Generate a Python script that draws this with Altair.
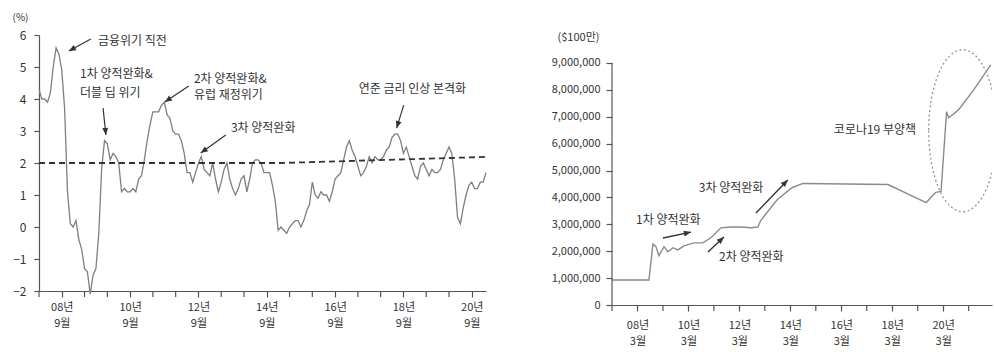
import math
import altair as alt
import pandas as pd

FONT = "Noto Sans CJK KR"
INK = "#333333"
AXIS_GREY = "#555555"

# ---------------- left panel: US CPI YoY (%), monthly, month 0 = Jan 2008 ----------------
CPI_YOY = [4.3, 4.0, 4.0, 3.9, 4.2, 5.0, 5.6, 5.4, 4.9, 3.7, 1.1, 0.1,
           0.0, 0.2, -0.4, -0.7, -1.3, -1.4, -2.1, -1.5, -1.3, -0.2, 1.8, 2.7,
           2.6, 2.1, 2.3, 2.2, 2.0, 1.1, 1.2, 1.1, 1.1, 1.2, 1.1, 1.5,
           1.6, 2.1, 2.7, 3.2, 3.6, 3.6, 3.6, 3.8, 3.9, 3.5, 3.4, 3.0,
           2.9, 2.9, 2.7, 2.3, 1.7, 1.7, 1.4, 1.7, 2.0, 2.2, 1.8, 1.7,
           1.6, 2.0, 1.5, 1.1, 1.4, 1.8, 2.0, 1.5, 1.2, 1.0, 1.2, 1.5,
           1.6, 1.1, 1.5, 2.0, 2.1, 2.1, 2.0, 1.7, 1.7, 1.7, 1.3, 0.8,
           -0.1, 0.0, -0.1, -0.2, 0.0, 0.1, 0.2, 0.2, 0.0, 0.2, 0.5, 0.7,
           1.4, 1.0, 0.9, 1.1, 1.0, 1.0, 0.8, 1.1, 1.5, 1.6, 1.7, 2.1,
           2.5, 2.7, 2.4, 2.2, 1.9, 1.6, 1.7, 1.9, 2.2, 2.0, 2.2, 2.1,
           2.1, 2.2, 2.4, 2.5, 2.8, 2.9, 2.9, 2.7, 2.3, 2.5, 2.2, 1.9,
           1.6, 1.5, 1.9, 2.0, 1.8, 1.6, 1.8, 1.7, 1.7, 1.8, 2.1, 2.3,
           2.5, 2.3, 1.5, 0.3, 0.1, 0.6, 1.0, 1.3, 1.4, 1.2, 1.2, 1.4,
           1.4, 1.7]
CPI_MONTH = list(range(len(CPI_YOY)))

TREND_MONTH = [0, 85, 157]
TREND_VALUE = [2.0, 2.0, 2.19]

LEFT_Y_TICKS = [-2, -1, 0, 1, 2, 3, 4, 5, 6]
LEFT_MINOR_TICKS = [0, 16, 24, 40, 48, 64, 72, 88, 96, 112, 120, 136, 144]
LEFT_LABEL_AT = [8, 32, 56, 80, 104, 128, 152]
LEFT_LABEL_YEAR = ["08년", "10년", "12년", "14년", "16년", "18년", "20년"]
LEFT_LABEL_MONTH = "9월"

LEFT_NOTE_TEXT = ["금융위기 직전", "1차 양적완화&", "더블 딥 위기", "2차 양적완화&",
                  "유럽 재정위기", "3차 양적완화", "연준 금리 인상 본격화"]
LEFT_NOTE_X = [20.7, 14.4, 14.4, 54.4, 54.4, 67.4, 112.3]
LEFT_NOTE_Y = [5.81, 4.78, 4.19, 4.62, 4.12, 3.09, 4.31]

LEFT_ARROW_X1 = [18.2, 22.5, 52.6, 65.6, 128.1]
LEFT_ARROW_Y1 = [5.875, 3.72, 4.41, 2.875, 3.81]
LEFT_ARROW_X2 = [10.5, 23.5, 44.2, 56.8, 125.6]
LEFT_ARROW_Y2 = [5.5, 2.875, 3.91, 2.31, 3.09]

# ---------------- right panel: Fed balance sheet ($ million), month 0 = Mar 2007 ----------------
FED_MONTH = [0, 17.4, 19.3, 20.7, 22.1, 24.5, 26.4, 28.7, 31, 33.9,
             38.6, 42.8, 46.6, 51.3, 56, 60.7, 65.4, 68.7, 70.1, 78,
             85, 90, 130, 148, 152.5, 155, 157.6, 158.6, 163.3, 170.4,
             178.4]
FED_VALUE = [930000, 930000, 2270000, 2170000, 1830000, 2170000, 1980000, 2130000, 2050000, 2200000,
             2310000, 2310000, 2500000, 2870000, 2900000, 2900000, 2870000, 2900000, 3150000, 3930000,
             4370000, 4520000, 4480000, 3810000, 4190000, 4220000, 7190000, 6960000, 7260000, 8000000,
             8930000]

RIGHT_Y_TICKS = [0, 1000000, 2000000, 3000000, 4000000, 5000000, 6000000, 7000000, 8000000, 9000000]
RIGHT_MINOR_TICKS = [0, 24, 48, 72, 96, 120, 144, 168]
RIGHT_LABEL_AT = [12, 36, 60, 84, 108, 132, 156]
RIGHT_LABEL_YEAR = ["08년", "10년", "12년", "14년", "16년", "18년", "20년"]
RIGHT_LABEL_MONTH = "3월"

RIGHT_NOTE_TEXT = ["1차 양적완화", "2차 양적완화", "3차 양적완화", "코로나19 부양책"]
RIGHT_NOTE_X = [11.3, 50.4, 40.9, 104.5]
RIGHT_NOTE_Y = [3160000, 1780000, 4350000, 6500000]

RIGHT_ARROW_X1 = [24, 45.2, 67.8]
RIGHT_ARROW_Y1 = [2490000, 1970000, 3420000]
RIGHT_ARROW_X2 = [37.2, 52.7, 82.8]
RIGHT_ARROW_Y2 = [2710000, 2530000, 4650000]

ELLIPSE_X = [165.2]
ELLIPSE_Y = [6480000]

# ---------------- layout constants ----------------
LEFT_W, LEFT_H = 447, 256
LEFT_XDOM, LEFT_YDOM = [0, 157], [-2, 6]
RIGHT_W, RIGHT_H = 380, 270
RIGHT_XDOM, RIGHT_YDOM = [0, 179], [0, 10040000]
TICK_LEN = 6

ARROW_PATH = "M0,0 L0.42,1 L-0.42,1 Z"
ELLIPSE_PATH = "M-0.42,0 A0.42,1 0 1,0 0.42,0 A0.42,1 0 1,0 -0.42,0 Z"


def label_expr(at, years, month):
    expr = ""
    for v, y in zip(at, years):
        expr += f"datum.value == {v} ? ['{y}', '{month}'] : "
    return expr + "''"


def arrow_df(x1, y1, x2, y2, sx, sy):
    ang = []
    for a, b, c, d in zip(x1, y1, x2, y2):
        dx = (c - a) * sx
        dy = -(d - b) * sy
        ang.append(math.degrees(math.atan2(dx, -dy)) % 360)
    return pd.DataFrame({"x1": x1, "y1": y1, "x2": x2, "y2": y2, "a": ang})


# ---------------- left chart ----------------
lxs = alt.Scale(domain=LEFT_XDOM, nice=False, zero=False)
lys = alt.Scale(domain=LEFT_YDOM, nice=False, zero=False)
lsx = LEFT_W / (LEFT_XDOM[1] - LEFT_XDOM[0])
lsy = LEFT_H / (LEFT_YDOM[1] - LEFT_YDOM[0])

LXA = alt.Axis(values=LEFT_LABEL_AT, labelExpr=label_expr(LEFT_LABEL_AT, LEFT_LABEL_YEAR, LEFT_LABEL_MONTH),
               title=None, tickSize=TICK_LEN, labelPadding=4, labelLineHeight=16, labelFontSize=11,
               labelOverlap=False, labelFlush=False)
LYA = alt.Axis(values=LEFT_Y_TICKS, title="(%)", titleAngle=0, titleX=-19, titleY=-18,
               titleAlign="center", titleBaseline="middle", titleFontSize=10,
               titleFontWeight="normal", tickSize=5, labelPadding=8)

cpi_df = pd.DataFrame({"m": CPI_MONTH, "v": CPI_YOY})
trend_df = pd.DataFrame({"m": TREND_MONTH, "v": TREND_VALUE})
lnote_df = pd.DataFrame({"m": LEFT_NOTE_X, "v": LEFT_NOTE_Y, "t": LEFT_NOTE_TEXT})
larrow_df = arrow_df(LEFT_ARROW_X1, LEFT_ARROW_Y1, LEFT_ARROW_X2, LEFT_ARROW_Y2, lsx, lsy)
lminor_df = pd.DataFrame({"m": LEFT_MINOR_TICKS})

l_line = alt.Chart(cpi_df).mark_line(color="#7f7f7f", strokeWidth=1.3).encode(
    x=alt.X("m:Q", scale=lxs, axis=LXA),
    y=alt.Y("v:Q", scale=lys, axis=LYA),
)
l_trend = alt.Chart(trend_df).mark_line(color=INK, strokeWidth=1.8, strokeDash=[6, 4]).encode(
    x=alt.X("m:Q", scale=lxs, axis=LXA),
    y=alt.Y("v:Q", scale=lys, axis=LYA),
)
l_minor = alt.Chart(lminor_df).mark_rule(color=AXIS_GREY, strokeWidth=1.2).encode(
    x=alt.X("m:Q", scale=lxs, axis=LXA),
    y=alt.value(LEFT_H), y2=alt.value(LEFT_H + TICK_LEN),
)
l_rules = alt.Chart(larrow_df).mark_rule(color=INK, strokeWidth=1.2).encode(
    x=alt.X("x1:Q", scale=lxs, axis=LXA), y=alt.Y("y1:Q", scale=lys, axis=LYA),
    x2="x2:Q", y2="y2:Q",
)
l_heads = alt.Chart(larrow_df).mark_point(shape=ARROW_PATH, filled=True, color=INK, size=200,
                                          opacity=1, strokeWidth=0).encode(
    x=alt.X("x2:Q", scale=lxs, axis=LXA), y=alt.Y("y2:Q", scale=lys, axis=LYA),
    angle=alt.Angle("a:Q", scale=None),
)
l_text = alt.Chart(lnote_df).mark_text(align="left", baseline="middle", font=FONT, fontSize=12,
                                       color=INK).encode(
    x=alt.X("m:Q", scale=lxs, axis=LXA), y=alt.Y("v:Q", scale=lys, axis=LYA), text="t:N",
)
left = alt.layer(l_line, l_trend, l_minor, l_rules, l_heads, l_text).properties(width=LEFT_W, height=LEFT_H)

# ---------------- right chart ----------------
rxs = alt.Scale(domain=RIGHT_XDOM, nice=False, zero=False)
rys = alt.Scale(domain=RIGHT_YDOM, nice=False, zero=False)
rsx = RIGHT_W / (RIGHT_XDOM[1] - RIGHT_XDOM[0])
rsy = RIGHT_H / (RIGHT_YDOM[1] - RIGHT_YDOM[0])

RXA = alt.Axis(values=RIGHT_LABEL_AT, labelExpr=label_expr(RIGHT_LABEL_AT, RIGHT_LABEL_YEAR, RIGHT_LABEL_MONTH),
               title=None, tickSize=TICK_LEN, labelPadding=8, labelLineHeight=16, labelFontSize=11,
               labelOverlap=False, labelFlush=False)
RYA = alt.Axis(values=RIGHT_Y_TICKS, format=",d", domain=False, title="($100만)", titleAngle=0,
               titleX=-34, titleY=2, titleAlign="center", titleBaseline="middle",
               titleFontSize=11, titleFontWeight="normal", tickSize=6, labelPadding=6,
               labelFontSize=11)

fed_df = pd.DataFrame({"m": FED_MONTH, "v": FED_VALUE})
rnote_df = pd.DataFrame({"m": RIGHT_NOTE_X, "v": RIGHT_NOTE_Y, "t": RIGHT_NOTE_TEXT})
rarrow_df = arrow_df(RIGHT_ARROW_X1, RIGHT_ARROW_Y1, RIGHT_ARROW_X2, RIGHT_ARROW_Y2, rsx, rsy)
ell_df = pd.DataFrame({"m": ELLIPSE_X, "v": ELLIPSE_Y})
axis_df = pd.DataFrame({"lo": [RIGHT_Y_TICKS[0]], "hi": [RIGHT_Y_TICKS[-1]]})
rminor_df = pd.DataFrame({"m": RIGHT_MINOR_TICKS})

r_line = alt.Chart(fed_df).mark_line(color="#8a8a8a", strokeWidth=1.4).encode(
    x=alt.X("m:Q", scale=rxs, axis=RXA),
    y=alt.Y("v:Q", scale=rys, axis=RYA),
)
r_axis = alt.Chart(axis_df).mark_rule(color=AXIS_GREY, strokeWidth=1.2).encode(
    x=alt.value(0), y=alt.Y("lo:Q", scale=rys, axis=RYA), y2="hi:Q",
)
r_minor = alt.Chart(rminor_df).mark_rule(color=AXIS_GREY, strokeWidth=1.2).encode(
    x=alt.X("m:Q", scale=rxs, axis=RXA),
    y=alt.value(RIGHT_H), y2=alt.value(RIGHT_H + TICK_LEN),
)
r_rules = alt.Chart(rarrow_df).mark_rule(color=INK, strokeWidth=1.4).encode(
    x=alt.X("x1:Q", scale=rxs, axis=RXA), y=alt.Y("y1:Q", scale=rys, axis=RYA),
    x2="x2:Q", y2="y2:Q",
)
r_heads = alt.Chart(rarrow_df).mark_point(shape=ARROW_PATH, filled=True, color=INK, size=200,
                                          opacity=1, strokeWidth=0).encode(
    x=alt.X("x2:Q", scale=rxs, axis=RXA), y=alt.Y("y2:Q", scale=rys, axis=RYA),
    angle=alt.Angle("a:Q", scale=None),
)
r_text = alt.Chart(rnote_df).mark_text(align="left", baseline="middle", font=FONT, fontSize=12,
                                       color=INK).encode(
    x=alt.X("m:Q", scale=rxs, axis=RXA), y=alt.Y("v:Q", scale=rys, axis=RYA), text="t:N",
)
r_ell = alt.Chart(ell_df).mark_point(shape=ELLIPSE_PATH, size=26244, filled=False, color="#9a9a9a",
                                     strokeWidth=1.4, strokeDash=[2, 2.5], opacity=1, clip=True).encode(
    x=alt.X("m:Q", scale=rxs, axis=RXA), y=alt.Y("v:Q", scale=rys, axis=RYA),
)
right = alt.layer(r_line, r_axis, r_minor, r_rules, r_heads, r_text, r_ell).properties(
    width=RIGHT_W, height=RIGHT_H)

chart = alt.hconcat(left, right, spacing=126, bounds="flush").properties(
    padding={"left": 12, "top": 12, "right": 0, "bottom": 0}
).configure_view(stroke=None).configure_axis(
    labelFont=FONT, titleFont=FONT, labelColor=INK, titleColor=INK,
    domainColor=AXIS_GREY, tickColor=AXIS_GREY, domainWidth=1.2, tickWidth=1.2,
    grid=False, labelFontSize=12,
).configure_text(font=FONT)

chart.save("out.html", embed_options={"renderer": "svg", "actions": False})
